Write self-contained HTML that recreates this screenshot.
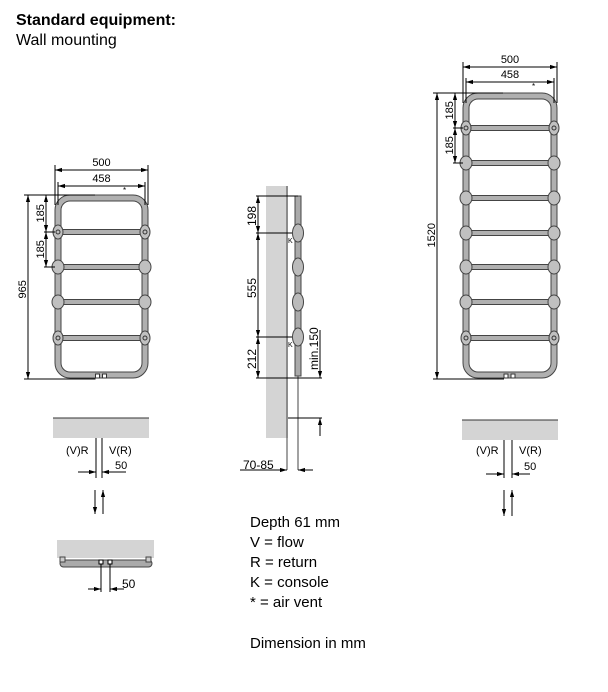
<!DOCTYPE html>
<html><head><meta charset="utf-8"><style>
html,body{margin:0;padding:0;background:#fff;width:608px;height:692px;overflow:hidden}
svg{display:block;font-family:"Liberation Sans",Arial,sans-serif}
</style></head><body>
<svg id="s" width="608" height="692" viewBox="0 0 608 692" xmlns="http://www.w3.org/2000/svg">
<defs>
<marker id="a" viewBox="0 0 10 10" refX="10" refY="5" markerWidth="7" markerHeight="7" orient="auto-start-reverse"><path d="M0,2 L10,5 L0,8 z" fill="#000"/></marker>
</defs>
<text x="16" y="25" font-size="16" font-weight="bold">Standard equipment:</text>
<text x="16" y="45" font-size="16">Wall mounting</text>

<!-- middle side view -->
<rect x="266" y="186" width="22" height="252" fill="#d4d4d4"/>
<line x1="287" y1="186" x2="287" y2="470" stroke="#444" stroke-width="1"/>
<line x1="298" y1="376" x2="298" y2="470" stroke="#444" stroke-width="1"/>
<rect x="295" y="196" width="6" height="180" fill="#aaa" stroke="#444" stroke-width="1"/>
<g fill="#bbb" stroke="#444" stroke-width="1">
<ellipse cx="298" cy="233" rx="5.5" ry="9"/><ellipse cx="298" cy="267" rx="5.5" ry="9"/>
<ellipse cx="298" cy="302" rx="5.5" ry="9"/><ellipse cx="298" cy="337" rx="5.5" ry="9"/>
</g>
<g stroke="#000" stroke-width="1" fill="none">
<line x1="256" y1="196" x2="298" y2="196"/><line x1="256" y1="233" x2="292" y2="233"/>
<line x1="256" y1="337" x2="292" y2="337"/><line x1="256" y1="378" x2="322" y2="378"/>
<line x1="258" y1="196" x2="258" y2="233" marker-start="url(#a)" marker-end="url(#a)"/>
<line x1="258" y1="233" x2="258" y2="337" marker-start="url(#a)" marker-end="url(#a)"/>
<line x1="258" y1="337" x2="258" y2="378" marker-start="url(#a)" marker-end="url(#a)"/>
<line x1="288" y1="418" x2="322" y2="418"/>
<line x1="320" y1="330" x2="320" y2="378" marker-end="url(#a)"/>
<line x1="320" y1="418" x2="320" y2="436" marker-start="url(#a)"/>
<line x1="240" y1="470" x2="287" y2="470" marker-end="url(#a)"/>
<line x1="313" y1="470" x2="298" y2="470" marker-end="url(#a)"/>
</g>
<text font-size="12" transform="translate(256,226) rotate(-90)">198</text>
<text font-size="12" transform="translate(256,298) rotate(-90)">555</text>
<text font-size="12" transform="translate(256,369) rotate(-90)">212</text>
<text font-size="12" transform="translate(318,370) rotate(-90)">min.150</text>
<text x="243" y="469" font-size="12">70-85</text>
<text x="288" y="243" font-size="7">K</text><text x="288" y="347" font-size="7">K</text>

<!-- left plan -->
<rect x="53" y="418" width="96" height="20" fill="#d4d4d4"/><line x1="53" y1="418" x2="149" y2="418" stroke="#333"/>
<g stroke="#000" stroke-width="1">
<line x1="96" y1="438" x2="96" y2="478"/><line x1="102" y1="438" x2="102" y2="478"/>
<line x1="78" y1="472" x2="96" y2="472" marker-end="url(#a)"/><line x1="126" y1="472" x2="102" y2="472" marker-end="url(#a)"/>
<line x1="95" y1="490" x2="95" y2="514" marker-end="url(#a)"/><line x1="103" y1="514" x2="103" y2="490" marker-end="url(#a)"/>
</g>
<text x="66" y="454" font-size="11">(V)R</text><text x="109" y="454" font-size="11">V(R)</text><text x="115" y="469" font-size="11">50</text>
<!-- bottom plan -->
<rect x="57" y="540" width="97" height="18" fill="#d4d4d4"/>
<rect x="60" y="560" width="92" height="7" rx="3.5" fill="#aaa" stroke="#444"/>
<rect x="60" y="557" width="5" height="5" fill="#ccc" stroke="#444"/><rect x="146" y="557" width="5" height="5" fill="#ccc" stroke="#444"/>
<rect x="99" y="560" width="4" height="4" fill="#fff" stroke="#000"/><rect x="108" y="560" width="4" height="4" fill="#fff" stroke="#000"/>
<g stroke="#000"><line x1="101" y1="564" x2="101" y2="592"/><line x1="110" y1="564" x2="110" y2="592"/>
<line x1="88" y1="589" x2="101" y2="589" marker-end="url(#a)"/><line x1="124" y1="589" x2="110" y2="589" marker-end="url(#a)"/></g>
<text x="122" y="588" font-size="12">50</text>

<!-- right plan -->
<rect x="462" y="420" width="96" height="20" fill="#d4d4d4"/><line x1="462" y1="420" x2="558" y2="420" stroke="#333"/>
<g stroke="#000" stroke-width="1">
<line x1="504" y1="440" x2="504" y2="478"/><line x1="512" y1="440" x2="512" y2="478"/>
<line x1="486" y1="474" x2="504" y2="474" marker-end="url(#a)"/><line x1="530" y1="474" x2="512" y2="474" marker-end="url(#a)"/>
<line x1="504" y1="490" x2="504" y2="516" marker-end="url(#a)"/><line x1="512" y1="516" x2="512" y2="490" marker-end="url(#a)"/>
</g>
<text x="476" y="454" font-size="11">(V)R</text><text x="519" y="454" font-size="11">V(R)</text><text x="524" y="470" font-size="11">50</text>

<!-- legend -->
<g font-size="15">
<text x="250" y="527">Depth 61 mm</text><text x="250" y="547">V = flow</text>
<text x="250" y="567">R = return</text><text x="250" y="587">K = console</text>
<text x="250" y="607">*  = air vent</text><text x="250" y="648">Dimension in mm</text>
</g>
<g id="rads"></g>
</svg>
<script>
var g=document.getElementById('rads'),h='';
function rad(x1,x2,top,bot,rungs,d500,d458,tx,tlab,dx185){
 var w=x2-x1;
 h+='<rect x="'+(x1+3)+'" y="'+(top+3)+'" width="'+(w-6)+'" height="'+(bot-top-6)+'" rx="12" fill="none" stroke="#444" stroke-width="7"/>';
 h+='<rect x="'+(x1+3)+'" y="'+(top+3)+'" width="'+(w-6)+'" height="'+(bot-top-6)+'" rx="12" fill="none" stroke="#b0b0b0" stroke-width="5"/>';
 rungs.forEach(function(y,i){
  h+='<rect x="'+x1+'" y="'+(y-2.5)+'" width="'+w+'" height="5" fill="#b0b0b0" stroke="#444"/>';
  var r=(i==0||i==rungs.length-1)?5:6;
  h+='<ellipse cx="'+(x1+3)+'" cy="'+y+'" rx="'+r+'" ry="7" fill="#c0c0c0" stroke="#444"/>';
  h+='<ellipse cx="'+(x2-3)+'" cy="'+y+'" rx="'+r+'" ry="7" fill="#c0c0c0" stroke="#444"/>';
  if(i==0||i==rungs.length-1){h+='<circle cx="'+(x1+3)+'" cy="'+y+'" r="2" fill="none" stroke="#333"/><circle cx="'+(x2-3)+'" cy="'+y+'" r="2" fill="none" stroke="#333"/>';}
 });
 var m=(x1+x2)/2;
 h+='<rect x="'+(m-6)+'" y="'+(bot-4)+'" width="4" height="4" fill="#fff" stroke="#333"/><rect x="'+(m+1)+'" y="'+(bot-4)+'" width="4" height="4" fill="#fff" stroke="#333"/>';
 var L='stroke="#000" stroke-width="1"',M=' marker-start="url(#a)" marker-end="url(#a)"';
 h+='<line x1="'+x1+'" y1="'+(d500-5)+'" x2="'+x1+'" y2="'+(top+10)+'" '+L+'/><line x1="'+x2+'" y1="'+(d500-5)+'" x2="'+x2+'" y2="'+(top+10)+'" '+L+'/>';
 h+='<line x1="'+x1+'" y1="'+d500+'" x2="'+x2+'" y2="'+d500+'" '+L+M+'/>';
 h+='<line x1="'+(x1+3)+'" y1="'+(d458-4)+'" x2="'+(x1+3)+'" y2="'+(top+10)+'" '+L+'/><line x1="'+(x2-3)+'" y1="'+(d458-4)+'" x2="'+(x2-3)+'" y2="'+(top+10)+'" '+L+'/>';
 h+='<line x1="'+(x1+3)+'" y1="'+d458+'" x2="'+(x2-3)+'" y2="'+d458+'" '+L+M+'/>';
 h+='<text x="'+m+'" y="'+(d500-4)+'" font-size="11" text-anchor="middle">500</text>';
 h+='<text x="'+m+'" y="'+(d458-4)+'" font-size="11" text-anchor="middle">458</text>';
 h+='<text x="'+(x2-25)+'" y="'+(d458+7)+'" font-size="8">*</text>';
 h+='<line x1="'+(tx-4)+'" y1="'+top+'" x2="'+(x1+40)+'" y2="'+top+'" '+L+'/><line x1="'+(tx-4)+'" y1="'+(bot+1)+'" x2="'+(m-6)+'" y2="'+(bot+1)+'" '+L+'/>';
 h+='<line x1="'+tx+'" y1="'+top+'" x2="'+tx+'" y2="'+(bot+1)+'" '+L+M+'/>';
 h+='<text font-size="11" transform="translate('+(tx-2)+','+((top+bot)/2+12)+') rotate(-90)">'+tlab+'</text>';
 h+='<line x1="'+(dx185-2)+'" y1="'+rungs[0]+'" x2="'+x1+'" y2="'+rungs[0]+'" '+L+'/><line x1="'+(dx185-2)+'" y1="'+rungs[1]+'" x2="'+x1+'" y2="'+rungs[1]+'" '+L+'/>';
 h+='<line x1="'+dx185+'" y1="'+top+'" x2="'+dx185+'" y2="'+rungs[0]+'" '+L+M+'/>';
 h+='<line x1="'+dx185+'" y1="'+rungs[0]+'" x2="'+dx185+'" y2="'+rungs[1]+'" '+L+M+'/>';
 h+='<text font-size="11" transform="translate('+(dx185-2)+','+((top+rungs[0])/2+9)+') rotate(-90)">185</text>';
 h+='<text font-size="11" transform="translate('+(dx185-2)+','+((rungs[0]+rungs[1])/2+9)+') rotate(-90)">185</text>';
}
rad(55,148,195,378,[232,267,302,338],170,186,28,'965',46);
rad(463,557,93,378,[128,163,198,233,267,302,338],67,82,437,'1520',455);
g.innerHTML=h;
</script>
</body></html>
